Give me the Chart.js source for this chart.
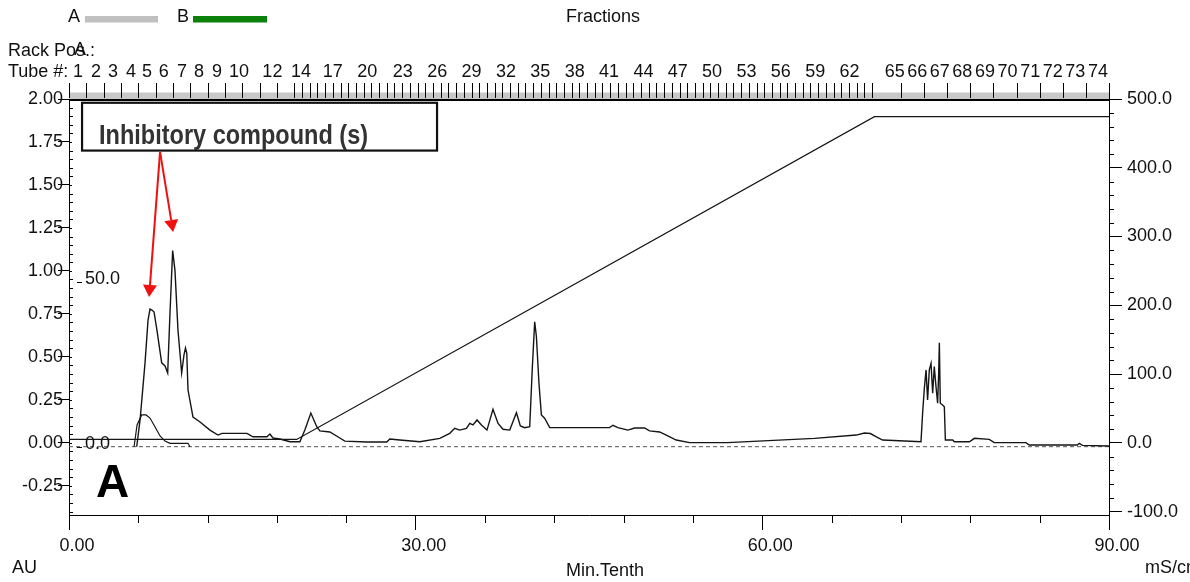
<!DOCTYPE html>
<html lang="en">
<head>
<meta charset="UTF-8">
<title>Chromatogram A</title>
<script src="https://cdn.jsdelivr.net/npm/chart.js@4.4.1/dist/chart.umd.min.js"></script>
<style>
  html, body { margin: 0; padding: 0; background: #fff; }
  #wrap { width: 1190px; height: 582px; }
</style>
</head>
<body>
<div id="wrap"><canvas id="chart" width="1190" height="582"></canvas></div>
<script>
// values, time in minutes
const uvTime = [5.86, 6.15, 6.58, 6.84, 7.01, 7.18, 7.36, 7.61, 8.02, 8.31,
  8.54, 8.74, 8.97, 9.17, 9.43, 9.75, 9.95, 10.08, 10.19, 10.30,
  10.73, 11.34, 12.2, 12.89, 13.24, 15.4, 15.92, 17.13, 17.39, 17.65,
  18.25, 19.12, 19.98, 20.41, 20.93, 21.45, 21.71, 22.57, 23.44, 23.87,
  25.77, 27.5, 27.76, 28.63, 30.36, 32.09, 32.95, 33.38, 33.81, 34.39,
  34.68, 34.96, 35.31, 35.69, 36.17, 36.69, 37.13, 37.56, 38.14, 38.72,
  39.06, 39.43, 39.87, 40.1, 40.3, 40.45, 40.67, 40.88, 41.16, 41.6,
  46.78, 47.07, 47.5, 48.37, 48.95, 49.81, 50.24, 51.11, 51.69, 52.55,
  53.7, 56.99, 64.51, 68.14, 68.83, 69.35, 69.87, 70.41, 73.73, 73.87,
  74.02, 74.17, 74.3, 74.45, 74.6, 74.74, 74.88, 75.03, 75.17, 75.26,
  75.32, 75.4, 75.6, 75.75, 75.84, 76.47, 76.62, 77.92, 78.35, 79.64,
  80.07, 82.81, 83.1, 87.27, 87.42, 87.7, 90];
const uvAbs = [-0.023, 0.133, 0.465, 0.714, 0.778, 0.772, 0.761, 0.656, 0.465, 0.447,
  0.406, 0.755, 1.118, 1.003, 0.656, 0.406, 0.511, 0.551, 0.522, 0.307,
  0.150, 0.121, 0.074, 0.045, 0.055, 0.055, 0.035, 0.035, 0.051, 0.028,
  0.022, 0.006, 0.006, 0.074, 0.173, 0.092, 0.069, 0.063, 0.028, 0.010,
  0.005, 0.005, 0.022, 0.016, 0.006, 0.026, 0.055, 0.084, 0.074, 0.084,
  0.113, 0.104, 0.133, 0.104, 0.074, 0.195, 0.113, 0.079, 0.074, 0.175,
  0.098, 0.088, 0.094, 0.443, 0.704, 0.617, 0.346, 0.162, 0.143, 0.088,
  0.088, 0.102, 0.088, 0.074, 0.086, 0.086, 0.069, 0.063, 0.045, 0.016,
  0.001, 0.001, 0.026, 0.045, 0.057, 0.054, 0.034, 0.016, 0.006, 0.172,
  0.317, 0.424, 0.249, 0.424, 0.462, 0.288, 0.443, 0.326, 0.23, 0.404,
  0.582, 0.23, 0.22, 0.21, 0.016, 0.016, 0.006, 0.006, 0.026, 0.02,
  0.001, 0.001, -0.013, -0.013, -0.003, -0.015, -0.019];

// second (smaller) UV trace
const uv2Time = [5.63, 5.89, 6.29, 6.67, 7.01, 7.45, 7.88, 8.31, 8.74, 10.30, 10.47];
const uv2Abs = [-0.023, 0.104, 0.162, 0.162, 0.144, 0.092, 0.040, 0.010, -0.003, -0.003, -0.023];

// gradient (conc B, %) and its zero line
const concTime = [0, 19.7, 69.7, 90];
const concB = [2.2, 2.2, 100, 100];
const zeroTime = [0, 90];
const zeroB = [0, 0];

// axis ticks
const timeTicks = [0, 30, 60, 90];
const auTicks = [-0.25, 0, 0.25, 0.5, 0.75, 1, 1.25, 1.5, 1.75, 2];
const condTicks = [-100, 0, 100, 200, 300, 400, 500];
const concTicks = [0, 50];

// fraction collector labels (tube number at minute)
const tubeLabels = ['1', '2', '3', '4', '5', '6', '7', '8', '9', '10', '12', '14', '17', '20',
  '23', '26', '29', '32', '35', '38', '41', '44', '47', '50', '53', '56', '59', '62',
  '65', '66', '67', '68', '69', '70', '71', '72', '73', '74'];
const tubeTimes = [0.79, 2.34, 3.81, 5.37, 6.75, 8.21, 9.78, 11.25, 12.80, 14.71, 17.60, 20.07, 22.83, 25.82,
  28.89, 31.86, 34.83, 37.81, 40.78, 43.76, 46.73, 49.71, 52.68, 55.65, 58.63, 61.6, 64.58, 67.55,
  71.45, 73.4, 75.36, 77.31, 79.27, 81.22, 83.18, 85.13, 87.09, 89.04];
// fraction marks: [from, to, step] in minutes
const fracSegments = [[0, 19.5, 1.5], [19.5, 69.5, 2 / 3], [72, 90, 2]];

// annotation, in data units (minutes / AU)
const noteText = 'Inhibitory compound (s)';
const noteBox = { x0: 1.13, x1: 31.85, y0: 1.978, y1: 1.700 };
const arrowFrom = { x: 7.88, y: 1.692 };
const arrowTips = [{ x: 6.93, y: 0.848 }, { x: 9.01, y: 1.226 }];

const FONT = "'Liberation Sans', Arial, sans-serif";
const TXT = '#111';

function pts(xs, ys) {
  return xs.map((v, i) => ({ x: v, y: ys[i] }));
}

function label(c, s, px, py, align, font) {
  c.font = font || ('18px ' + FONT);
  c.textAlign = align;
  c.textBaseline = 'middle';
  c.fillStyle = TXT;
  c.fillText(s, px, py);
}

function vline(c, px, ya, yb) {
  c.beginPath(); c.moveTo(Math.round(px) + 0.5, ya); c.lineTo(Math.round(px) + 0.5, yb); c.stroke();
}
function hline(c, py, xa, xb) {
  c.beginPath(); c.moveTo(xa, Math.round(py) + 0.5); c.lineTo(xb, Math.round(py) + 0.5); c.stroke();
}

const chromPlugin = {
  id: 'chrom',
  beforeDraw(chart) {
    const c = chart.ctx;
    c.save();
    c.fillStyle = '#fff';
    c.fillRect(0, 0, chart.width, chart.height);
    c.restore();
  },
  afterDraw(chart) {
    const c = chart.ctx;
    const { x, y, y2, yB } = chart.scales;
    const a = chart.chartArea;
    c.save();

    // fraction strip on top of the plot
    c.fillStyle = '#c8c8c8';
    c.fillRect(a.left, a.top - 6.5, a.right - a.left, 6.5);
    c.strokeStyle = '#000';
    c.lineWidth = 1;
    fracSegments.forEach(([from, to, step]) => {
      const n = Math.round((to - from) / step);
      for (let k = 0; k <= n; k++) {
        vline(c, x.getPixelForValue(from + k * step), a.top - 16, a.top - 1);
      }
    });
    vline(c, a.right, a.top - 7, a.top);
    c.lineWidth = 2;
    c.beginPath(); c.moveTo(a.left, a.top + 1); c.lineTo(a.right + 1, a.top + 1); c.stroke();

    tubeTimes.forEach((t, i) => label(c, tubeLabels[i], x.getPixelForValue(t), a.top - 27, 'center'));
    label(c, 'Tube #:', 8, a.top - 27, 'left');
    label(c, 'Rack Pos.:', 8, a.top - 48, 'left');
    label(c, 'A', x.getPixelForValue(0.96), a.top - 49, 'center');

    // legend + title row
    label(c, 'A', 68, 17, 'left');
    c.fillStyle = '#c0c0c0'; c.fillRect(85, 16, 73, 6.5);
    label(c, 'B', 177, 17, 'left');
    c.fillStyle = '#0b800b'; c.fillRect(193, 16, 74, 6.5);
    label(c, 'Fractions', 603, 17, 'center');

    // minor ticks
    c.lineWidth = 1;
    c.strokeStyle = '#000';
    for (let k = -8; k <= 40; k++) {
      const py = y.getPixelForValue(k * 0.05);
      hline(c, py, a.left, a.left + (k % 5 === 0 ? 3 : 4));
    }
    for (let k = -5; k <= 25; k++) {
      if (k % 5 === 0) continue;
      hline(c, y2.getPixelForValue(k * 20), a.right, a.right + 5);
    }
    for (let k = 0; k <= 15; k++) {
      if (k % 5 === 0) continue;
      vline(c, x.getPixelForValue(k * 6), a.bottom, a.bottom + 8);
    }

    // inner conc B scale
    concTicks.forEach(v => {
      const py = yB.getPixelForValue(v);
      hline(c, py, a.left + 8, a.left + 13);
      label(c, v.toFixed(1), a.left + 16, py - 2.5, 'left');
    });

    // annotation box
    const bx0 = x.getPixelForValue(noteBox.x0), bx1 = x.getPixelForValue(noteBox.x1);
    const by0 = y.getPixelForValue(noteBox.y0), by1 = y.getPixelForValue(noteBox.y1);
    c.fillStyle = '#fff';
    c.fillRect(bx0, by0, bx1 - bx0, by1 - by0);
    c.lineWidth = 2.2;
    c.strokeStyle = '#111';
    c.strokeRect(bx0, by0, bx1 - bx0, by1 - by0);
    c.font = 'bold 28px ' + FONT;
    const tw = c.measureText(noteText).width;
    c.save();
    c.translate(bx0 + 17, by0 + 41);
    c.scale(269 / tw, 1);
    c.textAlign = 'left';
    c.textBaseline = 'alphabetic';
    c.fillStyle = '#333';
    c.fillText(noteText, 0, 0);
    c.restore();

    // red arrows
    const ox = x.getPixelForValue(arrowFrom.x), oy = y.getPixelForValue(arrowFrom.y);
    c.strokeStyle = '#f01010';
    c.fillStyle = '#f01010';
    c.lineWidth = 2;
    arrowTips.forEach(tip => {
      const tx = x.getPixelForValue(tip.x), ty = y.getPixelForValue(tip.y);
      const ang = Math.atan2(ty - oy, tx - ox);
      const hl = 12, hw = 7;
      const bxp = tx - hl * Math.cos(ang), byp = ty - hl * Math.sin(ang);
      c.beginPath(); c.moveTo(ox, oy); c.lineTo(bxp, byp); c.stroke();
      c.beginPath();
      c.moveTo(tx, ty);
      c.lineTo(bxp + hw * Math.sin(ang), byp - hw * Math.cos(ang));
      c.lineTo(bxp - hw * Math.sin(ang), byp + hw * Math.cos(ang));
      c.closePath(); c.fill();
    });

    // panel letter and units
    c.font = 'bold 46px ' + FONT;
    c.textAlign = 'left';
    c.textBaseline = 'alphabetic';
    c.fillStyle = '#000';
    c.fillText('A', a.left + 27, a.bottom - 18);
    label(c, 'AU', 12, 568, 'left');
    label(c, 'Min.Tenth', 605, 571, 'center');
    label(c, 'mS/cm', 1145, 568, 'left');
    c.restore();
  }
};

const tickFont = { family: FONT, size: 18 };

new Chart(document.getElementById('chart').getContext('2d'), {
  type: 'scatter',
  data: {
    datasets: [
      { label: 'UV', data: pts(uvTime, uvAbs), yAxisID: 'y', showLine: true,
        borderColor: '#151515', borderWidth: 1.4, order: 1 },
      { label: 'UV 2', data: pts(uv2Time, uv2Abs), yAxisID: 'y', showLine: true,
        borderColor: '#151515', borderWidth: 1.2, order: 2 },
      { label: 'Conc B', data: pts(concTime, concB), yAxisID: 'yB', showLine: true,
        borderColor: '#151515', borderWidth: 1.2, order: 3 },
      { label: 'zero', data: pts(zeroTime, zeroB), yAxisID: 'yB', showLine: true,
        borderColor: '#555', borderWidth: 1, borderDash: [4, 3], order: 4 }
    ]
  },
  options: {
    responsive: false,
    animation: false,
    devicePixelRatio: 1,
    elements: { point: { radius: 0 }, line: { tension: 0 } },
    layout: { padding: { top: 99, left: 0, right: 0, bottom: 0 } },
    plugins: { legend: { display: false }, tooltip: { enabled: false } },
    scales: {
      x: {
        type: 'linear', position: 'bottom', min: 0, max: 90,
        afterBuildTicks: s => { s.ticks = timeTicks.map(v => ({ value: v })); },
        afterFit: s => { s.height = 67; },
        grid: { drawOnChartArea: false, drawTicks: true, tickLength: 15, tickColor: '#000' },
        border: { display: true, color: '#000', width: 1 },
        ticks: { callback: v => v.toFixed(2), font: tickFont, color: TXT, padding: 5,
          labelOffset: 8, maxRotation: 0, autoSkip: false }
      },
      y: {
        type: 'linear', position: 'left', min: -0.42, max: 2.0,
        afterBuildTicks: s => { s.ticks = auTicks.map(v => ({ value: v })); },
        afterFit: s => { s.width = 69; },
        grid: { drawOnChartArea: false, drawTicks: true, tickLength: 11, tickColor: '#000' },
        border: { display: true, color: '#000', width: 1 },
        ticks: { callback: v => v.toFixed(2), font: tickFont, color: TXT, padding: -5, autoSkip: false }
      },
      y2: {
        type: 'linear', position: 'right', min: -105, max: 500,
        afterBuildTicks: s => { s.ticks = condTicks.map(v => ({ value: v })); },
        afterFit: s => { s.width = 81; },
        grid: { drawOnChartArea: false, drawTicks: true, tickLength: 13, tickColor: '#000' },
        border: { display: true, color: '#000', width: 1 },
        ticks: { callback: v => v.toFixed(1), font: tickFont, color: TXT, padding: 5, autoSkip: false }
      },
      yB: { type: 'linear', display: false, min: -20.70, max: 105.36 }
    }
  },
  plugins: [chromPlugin]
});
</script>
</body>
</html>
